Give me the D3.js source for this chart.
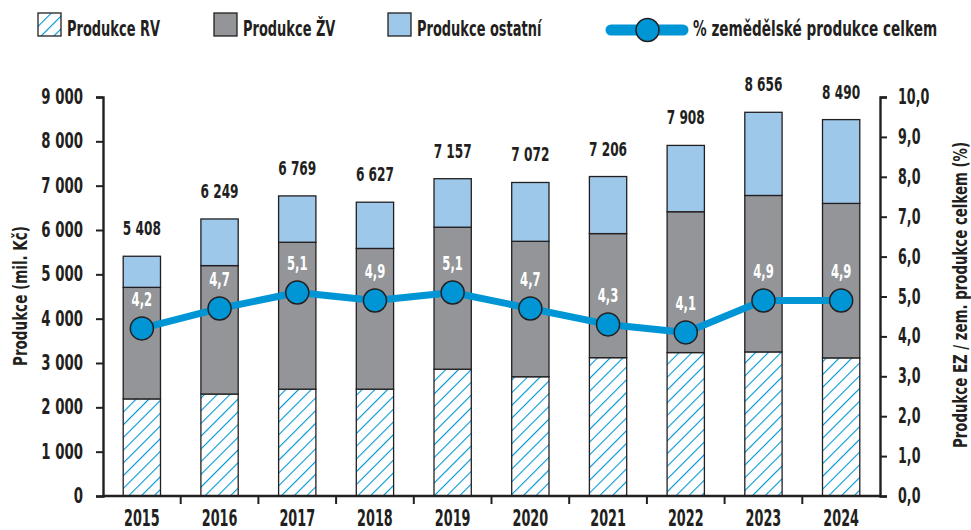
<!DOCTYPE html>
<html><head><meta charset="utf-8">
<script src="https://cdn.jsdelivr.net/npm/d3@7"></script>
<style>
body{margin:0;background:#fff;}
text{font-family:"DejaVu Sans",sans-serif;font-weight:bold;fill:#231f20;}
</style></head><body>
<svg id="c" width="971" height="530"></svg>
<script>
const years = ["2015","2016","2017","2018","2019","2020","2021","2022","2023","2024"];
const prodRV = [2190,2300,2410,2410,2860,2690,3120,3235,3250,3115];
const prodZV = [2516,2897,3314,3174,3203,3055,2799,3177,3529,3485];
const prodOst = [702,1052,1045,1043,1094,1327,1287,1496,1876,1890];
const totals = [5408,6249,6769,6627,7157,7072,7206,7908,8656,8490];
const pct = [4.2,4.7,5.1,4.9,5.1,4.7,4.3,4.1,4.9,4.9];
const leftTicks = [0,1000,2000,3000,4000,5000,6000,7000,8000,9000];
const rightTicks = [0,1,2,3,4,5,6,7,8,9,10];
const seriesNames = ["Produkce RV","Produkce ŽV","Produkce ostatní"];
const lineName = "% zemědělské produkce celkem";

const svg = d3.select("#c");
const L=103, R=880, T=97, B=496;
const fmtThousands = v => { const s=String(v); return s.length>3 ? s.slice(0,-3)+" "+s.slice(-3) : s; };
const fmtPct = v => v.toFixed(1).replace(".",",");
// horizontally condense text (narrow typeface look) with a scale transform
function squeeze(sel, f){
  sel.each(function(){
    const t = d3.select(this);
    const X = +(t.attr("x") || 0);
    t.attr("x", X/f).attr("transform", `scale(${f},1)`);
  });
}

const x = d3.scaleBand().domain(years).range([L,R]).paddingInner(0.52).paddingOuter(0.26);
const y = d3.scaleLinear().domain([0,9000]).range([B,T]);
const y2 = d3.scaleLinear().domain([0,10]).range([B,T]);

const blue="#0096d6", grey="#939598", light="#9dc8ea", dark="#231f20";

const defs = svg.append("defs");
const pat = defs.append("pattern").attr("id","hatch").attr("patternUnits","userSpaceOnUse")
  .attr("width",9).attr("height",9).attr("patternTransform","rotate(45)");
pat.append("rect").attr("width",9).attr("height",9).attr("fill","#fff");
pat.append("line").attr("x1",0).attr("y1",0).attr("x2",0).attr("y2",9).attr("stroke",blue).attr("stroke-width",2.2);

const fills = ["url(#hatch)", grey, light];
const stackData = years.map((yr,i)=>({year:yr, RV:prodRV[i], ZV:prodZV[i], OST:prodOst[i]}));
const stack = d3.stack().keys(["RV","ZV","OST"])(stackData);

svg.append("g").selectAll("g").data(stack).join("g").attr("fill",(d,i)=>fills[i])
  .selectAll("rect").data(d=>d).join("rect")
  .attr("x",d=>x(d.data.year)).attr("width",x.bandwidth())
  .attr("y",d=>y(d[1])).attr("height",d=>y(d[0])-y(d[1]))
  .attr("stroke",dark).attr("stroke-width",1.3);

// totals
const tot = svg.append("g").selectAll("text").data(years).join("text")
  .attr("x",d=>x(d)+x.bandwidth()/2).attr("y",(d,i)=>y(totals[i])-21)
  .attr("text-anchor","middle").attr("font-size",19).text((d,i)=>fmtThousands(totals[i]));
squeeze(tot,0.64);

// axes
const axL = svg.append("g").attr("transform",`translate(${L},0)`)
  .call(d3.axisLeft(y).tickValues(leftTicks).tickSize(7).tickPadding(13).tickFormat(fmtThousands));
const axR = svg.append("g").attr("transform",`translate(${R},0)`)
  .call(d3.axisRight(y2).tickValues(rightTicks).tickSize(7).tickPadding(11).tickFormat(fmtPct));
const axB = svg.append("g").attr("transform",`translate(0,${B})`)
  .call(d3.axisBottom(x).tickSize(0).tickPadding(14));
[axL,axR,axB].forEach(a=>{
  a.attr("font-family",null).attr("font-size",null);
  a.select(".domain").attr("stroke",dark).attr("stroke-width",2.4);
  a.selectAll(".tick line").attr("stroke",dark).attr("stroke-width",2);
  a.selectAll(".tick text").attr("fill",dark);
});
axL.selectAll(".tick text").attr("font-size",20.5);
axR.selectAll(".tick text").attr("font-size",20.5);
axB.selectAll(".tick text").attr("font-size",22.5);
squeeze(axL.selectAll(".tick text"),0.65);
squeeze(axR.selectAll(".tick text"),0.62);
squeeze(axB.selectAll(".tick text"),0.57);
axB.select(".domain").attr("d",`M${L},0H${R}`);
// category boundary ticks
const step = x.step();
const bounds = years.slice(1).map(yr=>x(yr)-(step-x.bandwidth())/2);
axB.selectAll(".btick").data(bounds).join("line").attr("class","btick")
  .attr("x1",d=>d).attr("x2",d=>d).attr("y1",0).attr("y2",8).attr("stroke",dark).attr("stroke-width",2);

// line
const line = d3.line().x((d,i)=>x(years[i])+x.bandwidth()/2).y(d=>y2(d));
svg.append("path").datum(pct).attr("d",line).attr("fill","none").attr("stroke",blue).attr("stroke-width",7).attr("stroke-linejoin","round");
svg.append("g").selectAll("circle").data(pct).join("circle")
  .attr("cx",(d,i)=>x(years[i])+x.bandwidth()/2).attr("cy",d=>y2(d)).attr("r",11.5)
  .attr("fill",blue).attr("stroke",dark).attr("stroke-width",1.5);
const pl = svg.append("g").selectAll("text").data(pct).join("text")
  .attr("x",(d,i)=>x(years[i])+x.bandwidth()/2).attr("y",d=>y2(d)-22)
  .attr("text-anchor","middle").attr("font-size",20).style("fill","#fff").text(fmtPct);
squeeze(pl,0.58);

// axis titles
const t1 = svg.append("text").attr("transform","translate(27,296) rotate(-90)").attr("text-anchor","middle")
  .attr("font-size",19).text("Produkce (mil. Kč)");
t1.attr("textLength",140).attr("lengthAdjust","spacingAndGlyphs");
const t2 = svg.append("text").attr("transform","translate(967,295) rotate(-90)").attr("text-anchor","middle")
  .attr("font-size",19).text("Produkce EZ / zem. produkce celkem (%)");
t2.attr("textLength",306).attr("lengthAdjust","spacingAndGlyphs");

// legend
const leg = svg.append("g");
const legX = [38,214,388];
seriesNames.forEach((n,i)=>{
  leg.append("rect").attr("x",legX[i]).attr("y",13).attr("width",23).attr("height",23)
    .attr("fill",fills[i]).attr("stroke",dark).attr("stroke-width",1.3);
  leg.append("text").attr("class","lt").attr("x",legX[i]+29).attr("y",36).attr("font-size",22).text(n);
});
leg.append("line").attr("x1",611).attr("x2",683).attr("y1",30).attr("y2",30).attr("stroke",blue).attr("stroke-width",11).attr("stroke-linecap","round");
leg.append("circle").attr("cx",647.5).attr("cy",30).attr("r",11.5).attr("fill",blue).attr("stroke",dark).attr("stroke-width",1.5);
const lt4 = leg.append("text").attr("x",693).attr("y",36).attr("font-size",22).text(lineName);
squeeze(leg.selectAll("text.lt"),0.59);
squeeze(lt4,0.62);
</script></body></html>
